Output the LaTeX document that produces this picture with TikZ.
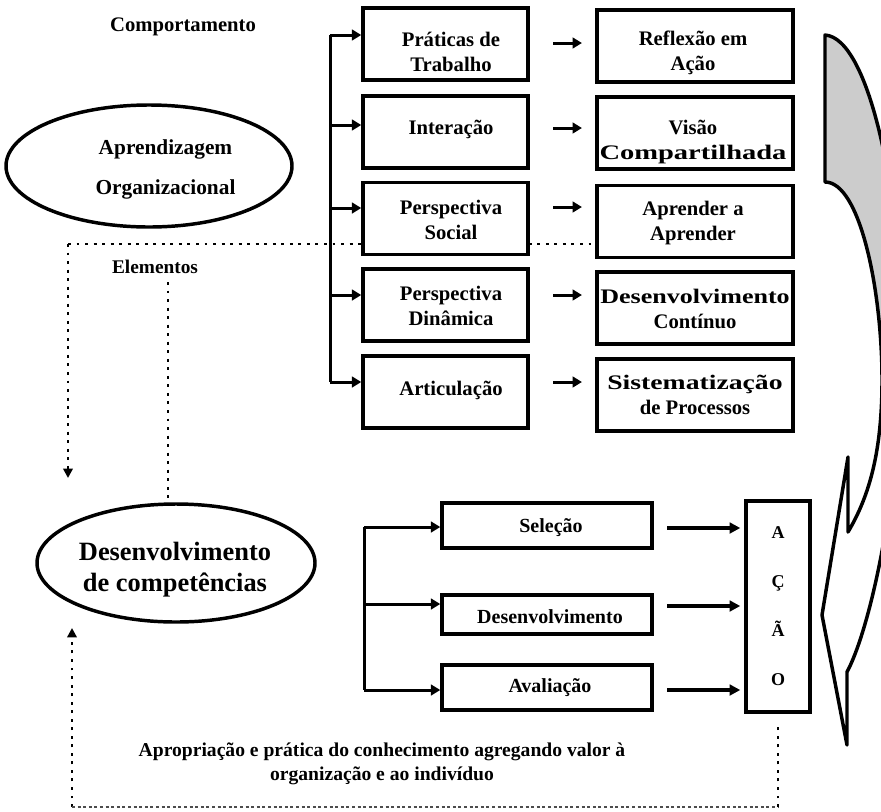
\documentclass[tikz,border=0pt]{standalone}
\usepackage{fontspec}
\setmainfont{Liberation Serif}
\usepackage{graphicx}
\usetikzlibrary{arrows.meta,shapes.geometric,calc}
\definecolor{arrowgray}{gray}{0.8}
\begin{document}
\begin{tikzpicture}[x=0.75pt,y=-0.75pt,
  lw/.style={line width=2.25pt},
  arr/.style={line width=2.25pt,-{Triangle[length=7pt,width=8pt]}},
  arrb/.style={line width=2.6pt,-{Triangle[length=8pt,width=8pt]}},
  dotl/.style={line width=2.2pt,dash pattern=on 2.2pt off 4.2pt},
  dota/.style={dotl,-{Triangle[length=7pt,width=7pt]}},
  fine/.style={line width=0.9pt,dash pattern=on 2.2pt off 2pt,draw=black!70},
  tbox/.style={draw,line width=2.6pt,fill=white,inner sep=0pt,minimum height=54pt},
  lbox/.style={tbox,minimum width=123.75pt},
  rbox/.style={tbox,minimum width=147pt},
  bbox/.style={draw,line width=2.6pt,fill=white,inner sep=0pt,minimum width=157.5pt},
  btxt/.style={align=center,inner sep=0pt,font=\fontsize{15.5}{18.75}\selectfont\bfseries},
  stxt/.style={align=center,inner sep=0pt,font=\fontsize{15}{18.75}\selectfont\bfseries},
  ell/.style={draw,ellipse,line width=2.6pt,inner sep=0pt}
]
\fill[white] (0,0) rectangle (881,811);
\useasboundingbox (0,0) rectangle (881,811);

% ---- big curved arrow ----
\begin{scope}
\clip (0,0) rectangle (881,811);
\fill[arrowgray] (825,35) -- (825,182) .. controls (860,182) and (882,290) .. (882,380)
   -- (902,340) .. controls (902,200) and (870,38) .. (825,35) -- cycle;
\draw[line width=2.6pt,line join=round] (825,35) -- (825,182)
   .. controls (860,182) and (882,290) .. (882,380)
   .. controls (882,450) and (870,495) .. (848,532)
   -- (848,457) -- (822,615) -- (847,745) -- (847,672)
   .. controls (872,625) and (902,480) .. (902,340)
   .. controls (902,200) and (870,38) .. (825,35) -- cycle;
\end{scope}

% ---- upper dotted lines ----
\coordinate (c1) at (68,244);
\coordinate (c2) at (68,478);
\coordinate (c3) at (168,282);

% ---- ellipses ----
\node[ell,minimum width=214.5pt,minimum height=91.5pt] (E1) at (149,166) {};
\node[btxt,font=\fontsize{16}{30}\selectfont\bfseries] (E1t) at (165.5,169) {Aprendizagem\\Organizacional};
\node[ell,minimum width=208.5pt,minimum height=88.5pt] (E2) at (176,563) {};
\node[btxt,font=\fontsize{19.8}{23.25}\selectfont\bfseries] (E2t) at (175,570) {Desenvolvimento\\de competências};

\node[btxt,font=\fontsize{15.5}{18}\selectfont\bfseries] (Co) at (183,27) {Comportamento};
\node[btxt,font=\fontsize{14.5}{18}\selectfont\bfseries] (El) at (155,267) {Elementos};

\draw[dotl] (c1) -- (650,244);
\draw[dota] (c1) -- (c2);
\draw[dotl] (c3) -- (c3 |- E2.north);

% ---- top boxes ----
\node[lbox] (L1) at (445.5,44) {};
\node[lbox] (L2) at (445.5,132) {};
\node[lbox] (L3) at (445.5,218.5) {};
\node[lbox] (L4) at (445.5,305) {};
\node[lbox] (L5) at (445.5,392) {};
\node[rbox] (R1) at (695,46) {};
\node[rbox] (R2) at (695,133) {};
\node[rbox] (R3) at (695,221.5) {};
\node[rbox] (R4) at (695,308) {};
\node[rbox] (R5) at (695,395) {};

\node[btxt] (L1t) at (451,52) {Práticas de\\Trabalho};
\node[btxt] (L2t) at (451,129) {Interação};
\node[btxt] (L3t) at (451,220) {Perspectiva\\Social};
\node[btxt] (L4t) at (451,306) {Perspectiva\\Dinâmica};
\node[btxt] (L5t) at (451,390) {Articulação};
\node[btxt] (R1t) at (693,53) {Reflexão em\\Ação};
\node[btxt] (R2t) at (693,142) {Visão\\\scalebox{1.38}[1]{Compartilhada}};
\node[btxt] (R3t) at (693,223) {Aprender a\\Aprender};
\node[btxt] (R4t) at (695,309) {\scalebox{1.26}[1]{Desenvolvimento}\\Contínuo};
\node[btxt] (R5t) at (695,395) {\scalebox{1.34}[1]{Sistematização}\\de Processos};

% branch
\coordinate (t1) at (330,35);
\coordinate (t2) at (330,125);
\coordinate (t3) at (330,208);
\coordinate (t4) at (330,295);
\coordinate (t5) at (330,382);
\draw[lw] (t1) -- (t5);
\draw[arr] (t1) -- (t1 -| L1.west);
\draw[arr] (t2) -- (t2 -| L2.west);
\draw[arr] (t3) -- (t3 -| L3.west);
\draw[arr] (t4) -- (t4 -| L4.west);
\draw[arr] (t5) -- (t5 -| L5.west);

% middle arrows
\coordinate (m1) at (553,43);
\coordinate (m2) at (553,128);
\coordinate (m3) at (553,207);
\coordinate (m4) at (553,295);
\coordinate (m5) at (553,382);
\draw[arr,shorten >=10pt] (m1) -- (m1 -| R1.west);
\draw[arr,shorten >=10pt] (m2) -- (m2 -| R2.west);
\draw[arr,shorten >=10pt] (m3) -- (m3 -| R3.west);
\draw[arr,shorten >=10pt] (m4) -- (m4 -| R4.west);
\draw[arr,shorten >=10pt] (m5) -- (m5 -| R5.west);

% ---- bottom boxes ----
\node[bbox,minimum height=33.75pt] (S) at (547,525.5) {};
\node[bbox,minimum height=29.25pt] (D) at (547,614.5) {};
\node[bbox,minimum height=33.75pt] (V) at (547,687.5) {};
\node[stxt] (St) at (551,528) {Seleção};
\node[stxt] (Dt) at (550,617) {Desenvolvimento};
\node[stxt] (Vt) at (550,688) {Avaliação};

\node[draw,line width=2.6pt,inner sep=0pt,minimum width=48pt,minimum height=158.25pt,
      align=center,font=\fontsize{13.5}{36.75}\selectfont\bfseries] (A) at (778,606.5) {A\\Ç\\Ã\\O};

\coordinate (b1) at (364,527);
\coordinate (b2) at (364,604);
\coordinate (b3) at (364,690);
\draw[lw] (b1) -- (b3);
\draw[arr] (b1) -- (b1 -| S.west);
\draw[arr] (b2) -- (b2 -| D.west);
\draw[arr] (b3) -- (b3 -| V.west);

\coordinate (a1) at (667,528);
\coordinate (a2) at (667,606);
\coordinate (a3) at (667,690);
\draw[arrb,shorten >=3pt] (a1) -- (a1 -| A.west);
\draw[arrb,shorten >=3pt] (a2) -- (a2 -| A.west);
\draw[arrb,shorten >=3pt] (a3) -- (a3 -| A.west);

% ---- bottom dotted loop ----
\coordinate (d0) at (72,628);
\coordinate (d1) at (72,807);
\coordinate (d2) at (778,807);
\draw[dota] (d1) -- (d0);
\draw[fine] (d1) -- (d2);
\draw[dotl] (d2) -- ([yshift=-10pt]A.south);

\node[stxt,font=\fontsize{14.7}{18}\selectfont\bfseries] (Ap) at (382,764)
  {Apropriação e prática do conhecimento agregando valor à\\organização e ao indivíduo};
\end{tikzpicture}
\end{document}
